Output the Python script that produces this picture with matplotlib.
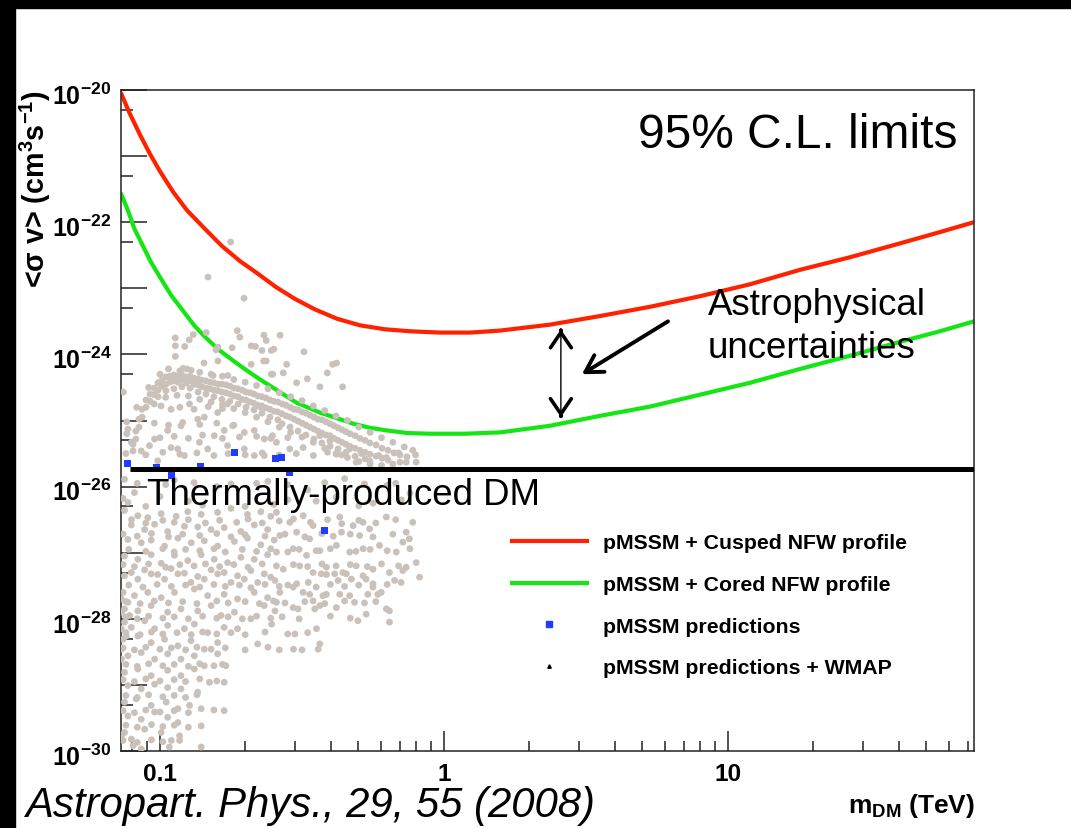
import numpy as np
import matplotlib
matplotlib.use('Agg')
import matplotlib.pyplot as plt
import matplotlib.transforms as mtrans
from matplotlib.lines import Line2D
from matplotlib.patches import Rectangle
from matplotlib.ticker import FixedLocator, FixedFormatter, NullFormatter

plt.rcParams['font.family'] = ['Liberation Sans', 'DejaVu Sans']
plt.rcParams['mathtext.default'] = 'regular'

# ---------------- data (log10 mass in TeV, log10 <sigma v> in cm^3 s^-1) ----------------
red_logm = [-1.137, -1.106, -1.070, -1.035, -1.000, -0.954, -0.905, -0.842, -0.782, -0.718,
            -0.655, -0.592, -0.525, -0.454, -0.377, -0.296, -0.208, -0.120, -0.014, 0.092,
            0.197, 0.373, 0.549, 0.725, 0.901, 1.077, 1.254, 1.430, 1.606, 1.746, 1.866]
red_logsv = [-20.05, -20.36, -20.68, -20.97, -21.23, -21.54, -21.82, -22.10, -22.36, -22.59,
             -22.78, -22.98, -23.16, -23.32, -23.46, -23.56, -23.62, -23.65, -23.67, -23.67,
             -23.64, -23.55, -23.42, -23.28, -23.12, -22.94, -22.72, -22.53, -22.32, -22.15,
             -22.00]

green_logm = [-1.137, -1.113, -1.090, -1.060, -1.031, -0.996, -0.960, -0.919, -0.878, -0.838,
              -0.796, -0.750, -0.702, -0.651, -0.596, -0.560, -0.519, -0.437, -0.380, -0.319,
              -0.261, -0.202, -0.127, -0.049, 0.074, 0.197, 0.373, 0.549, 0.725, 0.901, 1.077,
              1.254, 1.430, 1.606, 1.746, 1.866]
green_logsv = [-21.57, -21.82, -22.10, -22.36, -22.61, -22.86, -23.11, -23.34, -23.57, -23.75,
               -23.92, -24.07, -24.22, -24.37, -24.52, -24.62, -24.73, -24.88, -24.96, -25.05,
               -25.11, -25.15, -25.19, -25.20, -25.20, -25.18, -25.08, -24.93, -24.79, -24.61,
               -24.43, -24.22, -24.02, -23.81, -23.65, -23.50]

thermal_logsv = -25.73
thermal_mass_range = [0.0784, 73.5]

# pMSSM predictions (blue squares)
blue_logm = [-1.115, -1.013, -0.960, -0.857, -0.737, -0.594, -0.571, -0.545, -0.421]
blue_logsv = [-25.65, -25.71, -25.83, -25.69, -25.48, -25.58, -25.56, -25.78, -26.66]

# pMSSM scan points (grey): (log10 m, log10 sigma v)
arc_pts = [
    (-1.095, -25.36), (-1.095, -25.46), (-1.085, -25.16), (-1.085, -25.28),
    (-1.074, -24.98), (-1.074, -25.10), (-1.063, -24.83), (-1.063, -24.95),
    (-1.049, -24.69), (-1.049, -24.80), (-1.035, -24.60), (-1.035, -24.71),
    (-1.021, -24.51), (-1.021, -24.61), (-1.007, -24.43), (-1.007, -24.54), (-1.007, -24.64),
    (-0.993, -24.39), (-0.993, -24.48), (-0.979, -24.34), (-0.979, -24.45), (-0.979, -24.55),
    (-0.965, -24.33), (-0.965, -24.42), (-0.951, -24.31), (-0.951, -24.40), (-0.951, -24.52),
    (-0.937, -24.33), (-0.937, -24.42), (-0.923, -24.31), (-0.923, -24.39), (-0.923, -24.49),
    (-0.908, -24.34), (-0.908, -24.43), (-0.894, -24.33), (-0.894, -24.40), (-0.894, -24.51),
    (-0.880, -24.36), (-0.880, -24.45), (-0.866, -24.37), (-0.866, -24.46), (-0.866, -24.57),
    (-0.852, -24.39), (-0.852, -24.49), (-0.838, -24.40), (-0.838, -24.51), (-0.838, -24.60),
    (-0.824, -24.42), (-0.824, -24.52), (-0.810, -24.43), (-0.810, -24.54), (-0.810, -24.64),
    (-0.796, -24.45), (-0.796, -24.55), (-0.782, -24.45), (-0.782, -24.57), (-0.782, -24.68),
    (-0.768, -24.46), (-0.768, -24.58), (-0.754, -24.48), (-0.754, -24.60), (-0.754, -24.71),
    (-0.739, -24.51), (-0.739, -24.63), (-0.725, -24.52), (-0.725, -24.64), (-0.725, -24.75),
    (-0.711, -24.54), (-0.711, -24.68), (-0.697, -24.57), (-0.697, -24.69), (-0.697, -24.80),
    (-0.683, -24.58), (-0.683, -24.72), (-0.669, -24.60), (-0.669, -24.74), (-0.669, -24.84),
    (-0.655, -24.63), (-0.655, -24.77), (-0.641, -24.64), (-0.641, -24.78), (-0.641, -24.89),
    (-0.627, -24.66), (-0.627, -24.81), (-0.613, -24.69), (-0.613, -24.83), (-0.613, -24.95),
    (-0.599, -24.71), (-0.599, -24.86), (-0.585, -24.72), (-0.585, -24.87), (-0.585, -24.99),
    (-0.570, -24.75), (-0.570, -24.90), (-0.570, -25.05), (-0.556, -24.77), (-0.556, -24.93),
    (-0.542, -24.80), (-0.542, -24.95), (-0.542, -25.10), (-0.528, -24.83), (-0.528, -24.98),
    (-0.514, -24.84), (-0.514, -25.01), (-0.514, -25.16), (-0.500, -24.87), (-0.500, -25.04),
    (-0.486, -24.89), (-0.486, -25.07), (-0.486, -25.22), (-0.472, -24.92), (-0.472, -25.10),
    (-0.458, -24.95), (-0.458, -25.13), (-0.458, -25.28), (-0.444, -24.98), (-0.444, -25.16),
    (-0.430, -24.99), (-0.430, -25.19), (-0.430, -25.34), (-0.415, -25.02), (-0.415, -25.22),
    (-0.401, -25.05), (-0.401, -25.23), (-0.401, -25.39), (-0.387, -25.08), (-0.387, -25.27),
    (-0.373, -25.11), (-0.373, -25.30), (-0.373, -25.43), (-0.359, -25.14), (-0.359, -25.33),
    (-0.345, -25.17), (-0.345, -25.36), (-0.345, -25.48), (-0.331, -25.20), (-0.331, -25.39),
    (-0.313, -25.23), (-0.313, -25.42), (-0.313, -25.54), (-0.296, -25.27), (-0.296, -25.45),
    (-0.278, -25.30), (-0.278, -25.48), (-0.278, -25.58), (-0.261, -25.34), (-0.261, -25.51),
    (-0.239, -25.37), (-0.239, -25.54), (-0.218, -25.42), (-0.218, -25.57),
    (-0.197, -25.45), (-0.197, -25.60), (-0.176, -25.49), (-0.155, -25.52), (-0.155, -25.63),
    # fuzzy edges of the band
    (-1.040, -24.50), (-1.000, -24.30), (-0.970, -24.22), (-0.930, -24.25), (-0.890, -24.24),
    (-0.860, -24.27), (-0.820, -24.30), (-0.780, -24.33), (-0.740, -24.38), (-0.700, -24.42),
    (-0.660, -24.47), (-0.620, -24.52), (-0.580, -24.58), (-0.540, -24.64), (-0.500, -24.70),
    (-0.460, -24.78), (-0.420, -24.85), (-0.380, -24.93), (-0.340, -25.00), (-0.300, -25.10),
    (-0.260, -25.18), (-0.220, -25.26), (-0.180, -25.33), (-0.140, -25.40),
    (-1.020, -24.75), (-0.980, -24.65), (-0.940, -24.62), (-0.900, -24.63), (-0.860, -24.68),
    (-0.820, -24.72), (-0.780, -24.76), (-0.740, -24.82), (-0.700, -24.88), (-0.660, -24.95),
    (-0.620, -25.02), (-0.580, -25.10), (-0.540, -25.18), (-0.500, -25.25), (-0.460, -25.33),
    (-0.420, -25.42), (-0.380, -25.50), (-0.340, -25.56), (-0.300, -25.62), (-0.260, -25.66),
    (-0.220, -25.68), (-0.180, -25.66), (-0.130, -25.55), (-0.110, -25.45),
]

upper_pts = [
    (-0.751, -22.30), (-0.831, -22.83), (-0.704, -23.15), (-0.946, -23.75), (-0.946, -23.87),
    (-0.946, -24.03), (-0.913, -23.88), (-0.897, -23.78), (-0.883, -23.70), (-0.837, -23.67),
    (-0.845, -24.13), (-0.796, -24.10), (-0.796, -23.89), (-0.803, -23.93), (-0.746, -23.90),
    (-0.728, -23.64), (-0.719, -23.74), (-0.679, -23.87), (-0.664, -23.88), (-0.634, -23.71),
    (-0.626, -23.79), (-0.641, -23.94), (-0.608, -23.94), (-0.635, -24.10), (-0.626, -24.10),
    (-0.679, -24.15), (-0.608, -24.30), (-0.761, -24.32), (-0.813, -24.32), (-0.919, -24.21),
    (-0.905, -24.22), (-0.577, -23.71), (-0.599, -23.92), (-0.493, -23.96), (-0.554, -24.15),
    (-0.566, -24.28), (-0.603, -24.30), (-0.392, -24.15), (-0.378, -24.13), (-0.411, -24.28),
    (-0.481, -24.37), (-0.357, -24.49), (-0.437, -24.49), (-0.519, -24.43), (-1.129, -24.57),
    (-1.082, -24.80), (-1.117, -25.02), (-1.117, -25.20),
]

mid_pts = [
    (-0.996, -24.78), (-0.961, -24.83), (-0.896, -24.75), (-0.867, -24.98), (-0.844, -24.95),
    (-0.797, -24.88), (-0.762, -24.75), (-0.645, -24.80), (-0.926, -25.08), (-0.973, -25.15),
    (-1.019, -25.28), (-1.037, -25.38), (-1.066, -25.46), (-0.961, -25.41), (-0.937, -25.43),
    (-0.914, -25.53), (-0.861, -25.33), (-0.832, -25.43), (-0.809, -25.23), (-0.774, -25.15),
    (-0.744, -25.08), (-0.703, -25.18), (-0.668, -25.15), (-0.633, -25.28), (-0.604, -25.23),
    (-0.762, -25.38), (-0.703, -25.43), (-0.668, -25.53), (-0.633, -25.53), (-1.008, -25.61),
    (-1.113, -25.13), (-1.101, -25.33), (-0.496, -25.41), (-0.543, -25.43), (-0.379, -25.51),
    (-0.332, -25.43), (-0.262, -25.61), (-0.133, -25.63), (-0.590, -25.33), (-0.437, -25.23),
    (-0.402, -25.31), (-0.309, -25.63), (-0.203, -25.56), (-0.098, -25.63),
    (-1.125, -25.89), (-1.090, -26.09), (-1.113, -26.24), (-0.950, -25.90), (-0.800, -26.00),
    (-0.620, -25.92), (-0.480, -26.05), (-0.350, -25.88), (-0.200, -25.98), (-0.120, -26.10),
    (-0.250, -26.25), (-0.550, -26.20), (-0.700, -26.30), (-0.900, -26.22), (-1.050, -26.30),
    (-1.020, -25.04), (-0.970, -25.07), (-0.920, -25.03), (-0.860, -25.06), (-0.800, -25.04),
    (-0.740, -25.07), (-0.930, -24.80), (-0.880, -24.83), (-0.830, -24.79), (-0.780, -24.82),
    (-1.000, -25.26), (-0.950, -25.24), (-0.900, -25.27), (-0.850, -25.22), (-0.780, -25.27),
    (-0.720, -25.25), (-0.660, -25.24), (-0.610, -25.27), (-0.550, -25.26),
    (-1.120, -25.50), (-1.050, -25.52), (-0.990, -25.48), (-0.930, -25.51), (-0.870, -25.49),
    (-0.810, -25.53), (-0.760, -25.50), (-0.700, -25.52), (-0.640, -25.49), (-0.580, -25.52),
    (-0.520, -25.50), (-0.460, -25.53), (-0.410, -25.48), (-0.360, -25.52), (-0.290, -25.50),
    (-0.230, -25.53), (-0.160, -25.49), (-0.100, -25.52),
    (-1.080, -25.95), (-0.980, -25.97), (-0.880, -25.94), (-0.750, -25.96), (-0.660, -25.95),
    (-0.550, -25.97), (-0.420, -25.94), (-0.280, -25.96), (-0.170, -25.95),
    (-1.130, -26.18), (-1.000, -26.15), (-0.850, -26.28), (-0.600, -26.27), (-0.450, -26.22),
    (-0.380, -26.16), (-0.300, -26.29), (-0.150, -26.20),
]

low_pts = [
    (-1.125, -26.36), (-1.078, -26.44), (-1.043, -26.47), (-0.996, -26.41), (-0.943, -26.45),
    (-0.902, -26.38), (-0.855, -26.42), (-0.797, -26.39), (-0.750, -26.33), (-0.692, -26.42),
    (-0.645, -26.38), (-0.610, -26.45), (-1.101, -26.58), (-1.054, -26.65), (-1.019, -26.57),
    (-0.973, -26.68), (-0.914, -26.60), (-0.867, -26.61), (-0.820, -26.65), (-0.774, -26.62),
    (-0.715, -26.68), (-0.668, -26.58), (-0.621, -26.65), (-1.113, -26.80), (-1.066, -26.85),
    (-1.031, -26.81), (-0.984, -26.90), (-0.937, -26.78), (-0.890, -26.85), (-0.844, -26.82),
    (-0.797, -26.90), (-0.738, -26.83), (-0.692, -26.78), (-0.645, -26.88), (-0.598, -26.81),
    (-1.125, -27.05), (-1.078, -27.10), (-1.031, -27.03), (-0.996, -27.16), (-0.949, -27.04),
    (-0.902, -27.12), (-0.855, -27.03), (-0.809, -27.10), (-0.762, -27.15), (-0.715, -27.07),
    (-0.668, -27.10), (-0.621, -27.03), (-1.101, -27.30), (-1.054, -27.26), (-1.008, -27.33),
    (-0.961, -27.24), (-0.914, -27.31), (-0.867, -27.36), (-0.820, -27.26), (-0.774, -27.30),
    (-0.727, -27.35), (-0.680, -27.27), (-0.633, -27.32),
    (-0.590, -26.39), (-0.543, -26.54), (-0.496, -26.44), (-0.461, -26.59), (-0.367, -26.46),
    (-0.320, -26.59), (-0.285, -26.54), (-0.203, -26.46), (-0.578, -26.74), (-0.519, -26.69),
    (-0.473, -26.79), (-0.361, -26.69), (-0.297, -26.74), (-0.262, -26.64), (-0.133, -26.69),
    (-0.122, -26.79), (-0.590, -26.99), (-0.531, -26.94), (-0.484, -27.04), (-0.437, -26.97),
    (-0.379, -26.89), (-0.332, -26.99), (-0.285, -26.94), (-0.227, -26.89), (-0.168, -26.99),
    (-0.145, -26.84), (-0.566, -27.25), (-0.508, -27.20), (-0.461, -27.30), (-0.414, -27.22),
    (-0.356, -27.30), (-0.309, -27.20), (-0.250, -27.25), (-0.192, -27.30), (-0.133, -27.22),
    (-0.098, -27.15),
    (-1.125, -27.35), (-1.078, -27.40), (-1.031, -27.32), (-0.984, -27.40), (-0.937, -27.32),
    (-0.891, -27.45), (-0.844, -27.40), (-0.797, -27.32), (-0.750, -27.45), (-0.703, -27.40),
    (-0.656, -27.45), (-0.610, -27.37), (-1.130, -27.60), (-1.090, -27.65), (-1.043, -27.60),
    (-0.996, -27.68), (-0.949, -27.60), (-0.879, -27.55), (-0.832, -27.65), (-0.774, -27.63),
    (-0.727, -27.70), (-0.668, -27.60), (-0.621, -27.68), (-1.125, -27.85), (-1.078, -27.88),
    (-1.031, -27.80), (-0.973, -27.90), (-0.926, -27.85), (-0.867, -27.88), (-0.820, -27.80),
    (-0.785, -27.95), (-0.738, -27.90), (-0.680, -28.00), (-0.633, -27.80), (-1.125, -28.05),
    (-1.101, -28.13), (-1.054, -28.03), (-1.019, -28.15), (-0.973, -28.10), (-0.914, -28.15),
    (-0.879, -28.08), (-0.832, -28.21), (-0.774, -28.13), (-0.727, -28.15), (-0.656, -28.38),
    (-1.130, -28.31), (-1.078, -28.26), (-1.031, -28.36), (-0.984, -28.31), (-0.937, -28.41),
    (-0.891, -28.33), (-0.844, -28.46), (-0.797, -28.36), (-1.113, -28.56), (-1.066, -28.51),
    (-1.019, -28.61), (-0.973, -28.53), (-0.926, -28.61), (-0.879, -28.56), (-0.844, -28.71),
    (-0.797, -28.53), (-0.768, -28.71), (-1.125, -28.81), (-1.078, -28.76), (-1.031, -28.86),
    (-0.973, -28.78), (-0.926, -28.86), (-0.879, -28.76), (-0.826, -28.96), (-0.774, -28.96),
    (-1.113, -29.01), (-1.066, -29.06), (-1.019, -28.99), (-0.973, -29.04), (-0.926, -29.06),
    (-0.867, -29.11), (-1.125, -29.26), (-1.084, -29.21), (-1.031, -29.31), (-0.978, -29.26),
    (-0.937, -29.36), (-0.896, -29.31), (-0.855, -29.36), (-0.774, -29.39), (-1.113, -29.47),
    (-1.066, -29.52), (-1.019, -29.41), (-0.973, -29.49), (-0.937, -29.57), (-0.855, -29.62),
    (-1.125, -29.72), (-1.101, -29.82), (-1.054, -29.67), (-0.996, -29.72), (-0.931, -29.77),
    (-0.931, -29.84), (-1.136, -29.77), (-1.095, -29.92), (-1.066, -29.97), (-0.967, -29.94),
    (-0.855, -29.94), (-1.136, -27.70), (-1.136, -27.90), (-1.113, -27.75), (-1.107, -27.95),
    (-1.136, -28.15), (-1.119, -28.26), (-1.136, -28.46), (-1.136, -28.61),
    (-0.595, -27.42), (-0.578, -27.60), (-0.590, -27.75), (-0.595, -27.88), (-0.607, -28.08),
    (-0.531, -27.52), (-0.519, -27.47), (-0.496, -27.60), (-0.478, -27.45), (-0.473, -27.63),
    (-0.531, -27.83), (-0.514, -27.85), (-0.461, -27.73), (-0.455, -27.85), (-0.437, -27.80),
    (-0.426, -27.65), (-0.414, -27.63), (-0.432, -27.32), (-0.414, -27.33), (-0.385, -27.32),
    (-0.373, -27.42), (-0.367, -27.63), (-0.379, -27.83), (-0.344, -27.32), (-0.326, -27.40),
    (-0.332, -27.65), (-0.315, -27.75), (-0.285, -27.35), (-0.274, -27.40), (-0.250, -27.47),
    (-0.268, -27.63), (-0.233, -27.63), (-0.221, -27.60), (-0.303, -28.03), (-0.274, -27.93),
    (-0.203, -27.85), (-0.192, -27.88), (-0.192, -28.05), (-0.174, -27.42), (-0.151, -27.45),
    (-0.145, -27.27), (-0.086, -27.37), (-0.525, -28.23), (-0.449, -28.15), (-0.437, -28.38),
    (-0.443, -28.46), (-0.500, -28.47), (-0.580, -28.47),
]

dense_pts = [
    (-1.100, -26.50), (-1.050, -26.55), (-0.990, -26.51), (-0.950, -26.54), (-0.900, -26.50),
    (-0.840, -26.55), (-0.790, -26.51), (-0.730, -26.54), (-0.690, -26.49), (-0.640, -26.55),
    (-0.580, -26.52), (-0.530, -26.49), (-0.470, -26.54), (-0.410, -26.50), (-0.360, -26.56),
    (-0.300, -26.51), (-0.240, -26.55), (-0.170, -26.50), (-0.110, -26.54),
    (-1.130, -26.72), (-1.080, -26.75), (-1.030, -26.71), (-0.970, -26.76), (-0.920, -26.72),
    (-0.860, -26.74), (-0.800, -26.71), (-0.750, -26.76), (-0.700, -26.73), (-0.630, -26.75),
    (-0.560, -26.72), (-0.490, -26.76), (-0.430, -26.71), (-0.390, -26.75), (-0.330, -26.72),
    (-0.250, -26.76), (-0.180, -26.72),
    (-1.110, -26.95), (-1.050, -26.98), (-0.990, -26.94), (-0.950, -26.99), (-0.910, -26.95),
    (-0.860, -26.97), (-0.810, -26.94), (-0.770, -26.99), (-0.710, -26.95), (-0.660, -26.98),
    (-0.610, -26.94), (-0.550, -26.99), (-0.510, -26.95), (-0.450, -26.97), (-0.400, -26.94),
    (-0.310, -26.98), (-0.260, -26.95), (-0.200, -26.97), (-0.120, -26.94),
    (-1.130, -27.18), (-1.090, -27.21), (-1.040, -27.17), (-0.980, -27.22), (-0.930, -27.18),
    (-0.880, -27.20), (-0.840, -27.17), (-0.790, -27.21), (-0.740, -27.18), (-0.690, -27.22),
    (-0.640, -27.17), (-0.590, -27.20), (-0.530, -27.18), (-0.480, -27.21), (-0.430, -27.17),
    (-0.380, -27.20), (-0.330, -27.18), (-0.270, -27.21), (-0.220, -27.17), (-0.160, -27.20),
    (-1.110, -27.49), (-1.060, -27.52), (-1.010, -27.48), (-0.960, -27.51), (-0.910, -27.49),
    (-0.860, -27.52), (-0.810, -27.48), (-0.770, -27.51), (-0.720, -27.49), (-0.680, -27.53),
    (-0.630, -27.48), (-0.580, -27.51), (-0.550, -27.49), (-0.450, -27.52), (-0.400, -27.48),
    (-0.350, -27.51), (-0.300, -27.49), (-0.250, -27.52), (-0.200, -27.48),
    (-1.120, -27.74), (-1.070, -27.77), (-1.020, -27.73), (-0.970, -27.76), (-0.920, -27.74),
    (-0.870, -27.77), (-0.800, -27.73), (-0.760, -27.76), (-0.700, -27.74), (-0.650, -27.77),
    (-0.600, -27.73), (-0.560, -27.76), (-0.490, -27.74), (-0.420, -27.77), (-0.350, -27.73),
    (-0.280, -27.76), (-0.240, -27.74),
    (-1.120, -27.97), (-1.080, -28.00), (-1.040, -27.96), (-0.990, -27.99), (-0.950, -27.97),
    (-0.900, -28.00), (-0.850, -27.96), (-0.800, -27.99), (-0.760, -27.97), (-0.710, -28.00),
    (-0.660, -27.96), (-0.610, -27.99), (-0.570, -27.97), (-0.510, -28.00), (-0.400, -27.96),
    (-0.330, -27.99),
    (-1.120, -28.21), (-1.070, -28.24), (-1.030, -28.20), (-0.990, -28.23), (-0.940, -28.21),
    (-0.890, -28.24), (-0.850, -28.20), (-0.800, -28.23), (-0.750, -28.21), (-0.700, -28.24),
    (-0.630, -28.20), (-0.550, -28.23), (-0.480, -28.21),
    (-1.130, -28.44), (-1.090, -28.47), (-1.050, -28.43), (-1.000, -28.46), (-0.960, -28.44),
    (-0.910, -28.47), (-0.870, -28.43), (-0.820, -28.46), (-0.770, -28.44), (-0.700, -28.47),
    (-0.620, -28.43), (-0.530, -28.46),
    (-1.120, -28.69), (-1.080, -28.72), (-1.040, -28.68), (-0.990, -28.71), (-0.950, -28.69),
    (-0.900, -28.72), (-0.860, -28.68), (-0.810, -28.71), (-0.780, -28.69),
    (-1.130, -28.92), (-1.090, -28.95), (-1.050, -28.91), (-1.000, -28.94), (-0.950, -28.92),
    (-0.910, -28.95), (-0.860, -28.91), (-0.800, -28.94),
    (-1.120, -29.16), (-1.080, -29.19), (-1.040, -29.15), (-0.990, -29.18), (-0.950, -29.16),
    (-0.910, -29.19), (-0.870, -29.15),
    (-1.130, -29.39), (-1.090, -29.42), (-1.050, -29.38), (-1.000, -29.41), (-0.950, -29.39),
    (-0.900, -29.42), (-0.810, -29.38),
    (-1.120, -29.61), (-1.080, -29.64), (-1.030, -29.60), (-0.990, -29.63), (-0.950, -29.61),
    (-0.900, -29.64),
    (-1.130, -29.84), (-1.080, -29.87), (-1.030, -29.83), (-0.990, -29.86), (-0.960, -29.84),
]

blue_label = 'pMSSM predictions'

# ---------------- figure ----------------
W, H = 1071, 829
fig = plt.figure(figsize=(W / 100, H / 100), dpi=100)
fig.patch.set_facecolor('white')
fig.patches.append(Rectangle((0, 1 - 9 / H), 1, 9 / H, transform=fig.transFigure,
                             color='black', zorder=0))
fig.patches.append(Rectangle((0, 0), 15 / W, 1, transform=fig.transFigure,
                             color='black', zorder=0))

ax = fig.add_axes([121 / W, 1 - 752 / H, (974 - 121) / W, (752 - 91) / H])
ax.set_xscale('log')
ax.set_yscale('log')
xmin, xmax = 0.0729, 73.5
ax.set_xlim(xmin, xmax)
ax.set_ylim(1e-30, 1e-20)

RED = '#ff2200'
GREEN = '#14e614'
GREY = '#c9c1ba'
BLUE = '#1f3cff'

ax.plot(10 ** np.array(red_logm), 10 ** np.array(red_logsv), color=RED, lw=3.0,
        zorder=2, solid_capstyle='round', solid_joinstyle='round')
ax.plot(10 ** np.array(green_logm), 10 ** np.array(green_logsv), color=GREEN, lw=3.0,
        zorder=2, solid_capstyle='round', solid_joinstyle='round')

cloud = np.array(arc_pts + upper_pts + mid_pts + low_pts + dense_pts)
ax.scatter(10 ** cloud[:, 0], 10 ** cloud[:, 1], s=24, color=GREY, edgecolors='none',
           zorder=3)
ax.scatter(10 ** np.array(blue_logm), 10 ** np.array(blue_logsv), marker='s', s=26,
           color=BLUE, edgecolors='none', zorder=4)
ax.hlines(10 ** thermal_logsv, thermal_mass_range[0], thermal_mass_range[1],
          color='black', lw=3.6, zorder=5)

# axes styling (ROOT like)
for s in ax.spines.values():
    s.set_linewidth(1.1)
    s.set_color('#222222')
ydec = list(range(-30, -19))
ax.yaxis.set_major_locator(FixedLocator([10.0 ** k for k in ydec]))
ax.yaxis.set_major_formatter(FixedFormatter(
    ['$10^{%d}$' % k if k % 2 == 0 else '' for k in ydec]))
ax.yaxis.set_minor_locator(FixedLocator([5 * 10.0 ** k for k in range(-30, -20)]))
ax.yaxis.set_minor_formatter(NullFormatter())
ax.xaxis.set_major_locator(FixedLocator([0.1, 1, 10]))
ax.xaxis.set_major_formatter(FixedFormatter(['0.1', '1', '10']))
xminor = [m * 10.0 ** e for e in (-2, -1, 0, 1) for m in range(2, 10)]
ax.xaxis.set_minor_locator(FixedLocator([v for v in xminor if xmin <= v <= xmax]))
ax.xaxis.set_minor_formatter(NullFormatter())
ax.tick_params(which='both', direction='in', top=False, right=False, color='#222222',
               width=1.1)
ax.tick_params(axis='y', which='major', length=18.7, pad=7, labelsize=18)
ax.tick_params(axis='y', which='minor', length=8.6)
ax.tick_params(axis='x', which='major', length=14.4, pad=8, labelsize=17.6)
ax.tick_params(axis='x', which='minor', length=7.2)
for lab in ax.get_xticklabels() + ax.get_yticklabels():
    lab.set_fontweight('bold')
ydown = mtrans.ScaledTranslation(0, -3 / 100, fig.dpi_scale_trans)
for lab in ax.get_yticklabels():
    lab.set_transform(lab.get_transform() + ydown)

# legend
handles = [Line2D([], [], color=RED, lw=3),
           Line2D([], [], color=GREEN, lw=3),
           Line2D([], [], marker='s', ls='none', color=BLUE, ms=4.5),
           Line2D([], [], marker='^', ls='none', color='black', ms=2.5)]
labels = ['pMSSM + Cusped NFW profile', 'pMSSM + Cored NFW profile', blue_label,
          'pMSSM predictions + WMAP']
ax.legend(handles, labels, loc='upper left', bbox_to_anchor=(0.4583, 0.3295),
          frameon=False, prop=dict(weight='bold', size=15.3), handlelength=3.53,
          handletextpad=0.74, labelspacing=1.07, borderpad=0, borderaxespad=0)

# arrows
ax.annotate('', xy=(2.58, 10 ** -23.62), xytext=(2.58, 10 ** -24.95),
            arrowprops=dict(arrowstyle='-', lw=1.0, color='black', shrinkA=0, shrinkB=0))
for tip, base in (((2.58, 10 ** -23.62), (2.58, 10 ** -23.64)),
                  ((2.58, 10 ** -24.95), (2.58, 10 ** -24.93))):
    ax.annotate('', xy=tip, xytext=base,
                arrowprops=dict(arrowstyle='->,head_length=1.1,head_width=0.75', lw=2.6,
                                color='black', shrinkA=0, shrinkB=0, mutation_scale=10))
ax.annotate('', xy=(3.06, 10 ** -24.30), xytext=(6.15, 10 ** -23.50),
            arrowprops=dict(arrowstyle='->,head_length=1.2,head_width=0.7', lw=2.8,
                            color='black', shrinkA=0, shrinkB=0, mutation_scale=10))

# texts
fig.text(638 / W, 1 - 148 / H, '95% C.L. limits', fontsize=34.5, va='baseline')
fig.text(708 / W, 1 - 315 / H, 'Astrophysical', fontsize=26.4, va='baseline')
fig.text(708 / W, 1 - 358 / H, 'uncertainties', fontsize=26.4, va='baseline')
fig.text(146.7 / W, 1 - 505 / H, 'Thermally-produced DM', fontsize=26.4, va='baseline',
         zorder=10)
fig.text(25 / W, 1 - 817 / H, 'Astropart. Phys., 29, 55 (2008)', fontsize=30.2,
         style='italic', va='baseline')
fig.text(975 / W, 1 - 813 / H, 'm$_{DM}$ (TeV)', fontsize=19, fontweight='bold',
         ha='right', va='baseline')
fig.text(35 / W, 1 - 90 / H, '<σ v> (cm$^{3}$s$^{-1}$)', fontsize=20.6, fontweight='bold',
         rotation=90, ha='center', va='top')

fig.savefig('out.png', dpi=100)
